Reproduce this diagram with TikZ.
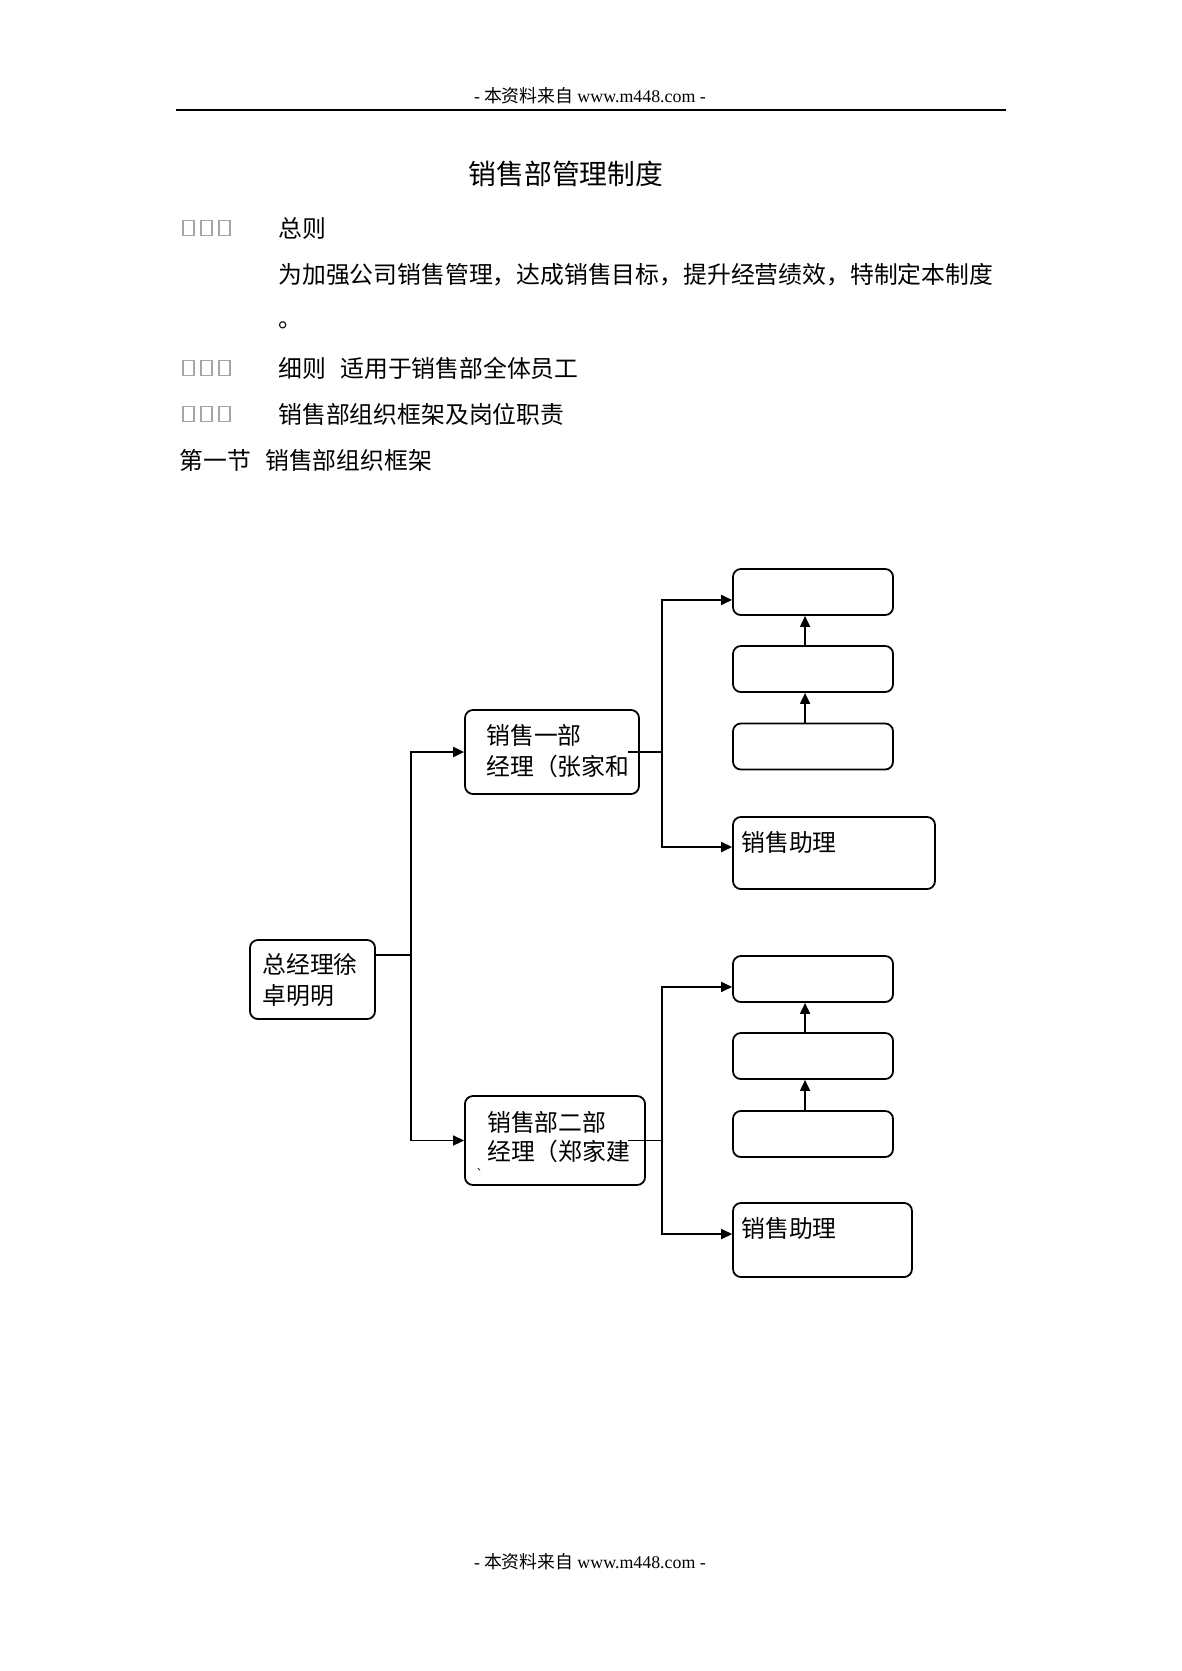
\documentclass[tikz,border=0pt]{standalone}
\usepackage{fontspec}
\setmainfont{Noto Sans CJK SC}
\newfontfamily\latinfont{Liberation Serif}
\usetikzlibrary{arrows.meta}
\definecolor{tofuG}{RGB}{165,165,165}

\begin{document}
\begin{tikzpicture}[x=0.50362pt,y=-0.50362pt,>={Triangle[length=5.5pt,width=5pt]},
  box/.style={draw,line width=0.9pt,rounded corners=4pt,inner sep=0pt},
  boxtext/.style={anchor=west,align=left,inner sep=0pt,font=\fontsize{12pt}{16pt}\selectfont},
  bodytext/.style={anchor=west,inner sep=0pt,font=\fontsize{12pt}{14pt}\selectfont},
  pagetext/.style={font=\fontsize{9pt}{11pt}\selectfont},
  link/.style={line width=0.9pt},
  tofu/.style={draw=tofuG,line width=0.6pt}]
\useasboundingbox (0,0) rectangle (1182,1671);

% page head and foot
\node[pagetext] (head) at (590,96) {{\latinfont -} 本资料来自 {\latinfont www.m448.com -}};
\draw[line width=0.9pt] (176,110) -- (1006,110);
\node[pagetext] (foot) at (590,1562) {{\latinfont -} 本资料来自 {\latinfont www.m448.com -}};

% title and body lines
\node[font=\fontsize{14pt}{16pt}\selectfont] (title) at (566,174) {销售部管理制度};
\foreach \r in {228,368,414}
  \foreach \c in {183,201,219}
    \draw[tofu] (\c,\r-7.5) rectangle ++(11,15);
\node[bodytext] (sec1) at (278,228) {总则};
\node[bodytext] (para) at (278,275) {为加强公司销售管理，达成销售目标，提升经营绩效，特制定本制度};
\node[bodytext,anchor=base west] (stop) at (278,327) {。};
\node[bodytext] (sec2) at (278,368) {细则\hspace{0.6em}适用于销售部全体员工};
\node[bodytext] (sec3) at (278,414) {销售部组织框架及岗位职责};
\node[bodytext] (part1) at (179,460) {第一节\hspace{0.6em}销售部组织框架};

% org chart boxes
\node[box,minimum width=63pt,minimum height=39.8pt] (gm) at (312.5,979.5) {};
\node[boxtext,font=\fontsize{12pt}{15.6pt}\selectfont] (gmt) at ([xshift=6.5pt]gm.west) {总经理徐\\卓明明};

\node[box,minimum width=87.6pt,minimum height=42.3pt] (m1) at (552,752) {};
\node[boxtext] (m1t) at ([xshift=11pt,yshift=0.5pt]m1.west) {销售一部\\经理（张家和};
\node[box,minimum width=90.7pt,minimum height=44.8pt] (m2) at (555,1140.5) {};
\node[boxtext,font=\fontsize{12pt}{15pt}\selectfont] (m2t) at ([xshift=11.5pt,yshift=1.7pt]m2.west) {销售部二部\\经理（郑家建};
\node[inner sep=0pt,font=\fontsize{5pt}{5pt}\selectfont] (tick) at (482,1170) {、};

\node[box,minimum width=80.6pt,minimum height=23.2pt] (a1) at (813,592) {};
\node[box,minimum width=80.6pt,minimum height=23.2pt] (a2) at (813,669) {};
\node[box,minimum width=80.6pt,minimum height=23.2pt] (a3) at (813,746.5) {};
\node[box,minimum width=101.7pt,minimum height=36.3pt] (s1) at (834,853) {};
\node[boxtext] (s1t) at ([xshift=4.5pt,yshift=5.5pt]s1.west) {销售助理};

\node[box,minimum width=80.6pt,minimum height=23.2pt] (b1) at (813,979) {};
\node[box,minimum width=80.6pt,minimum height=23.2pt] (b2) at (813,1056) {};
\node[box,minimum width=80.6pt,minimum height=23.2pt] (b3) at (813,1134) {};
\node[box,minimum width=90.1pt,minimum height=37.3pt] (s2) at (822.5,1240) {};
\node[boxtext] (s2t) at ([xshift=4.5pt,yshift=6pt]s2.west) {销售助理};

% connectors
\coordinate (j0) at (411,955);
\coordinate (j1) at (662,752);
\coordinate (j2) at (662,1140.5);
\draw[link] (gm.east |- j0) -- (j0);
\draw[link,->] (j0) |- (m1);
\draw[link,->] (j0) |- (m2);

\draw[link] ([xshift=-6pt]m1.east) -- (j1);
\draw[link,->] (j1) |- ([yshift=-4pt]a1.west);
\draw[link,->] (j1) |- ([yshift=3pt]s1.west);
\draw[link,->] ([xshift=-4pt]a3.north) -- ([xshift=-4pt]a2.south);
\draw[link,->] ([xshift=-4pt]a2.north) -- ([xshift=-4pt]a1.south);

\draw[link] ([xshift=-9pt]m2.east) -- (j2);
\draw[link,->] (j2) |- ([yshift=-4pt]b1.west);
\draw[link,->] (j2) |- ([yshift=3pt]s2.west);
\draw[link,->] ([xshift=-4pt]b3.north) -- ([xshift=-4pt]b2.south);
\draw[link,->] ([xshift=-4pt]b2.north) -- ([xshift=-4pt]b1.south);
\end{tikzpicture}
\end{document}
